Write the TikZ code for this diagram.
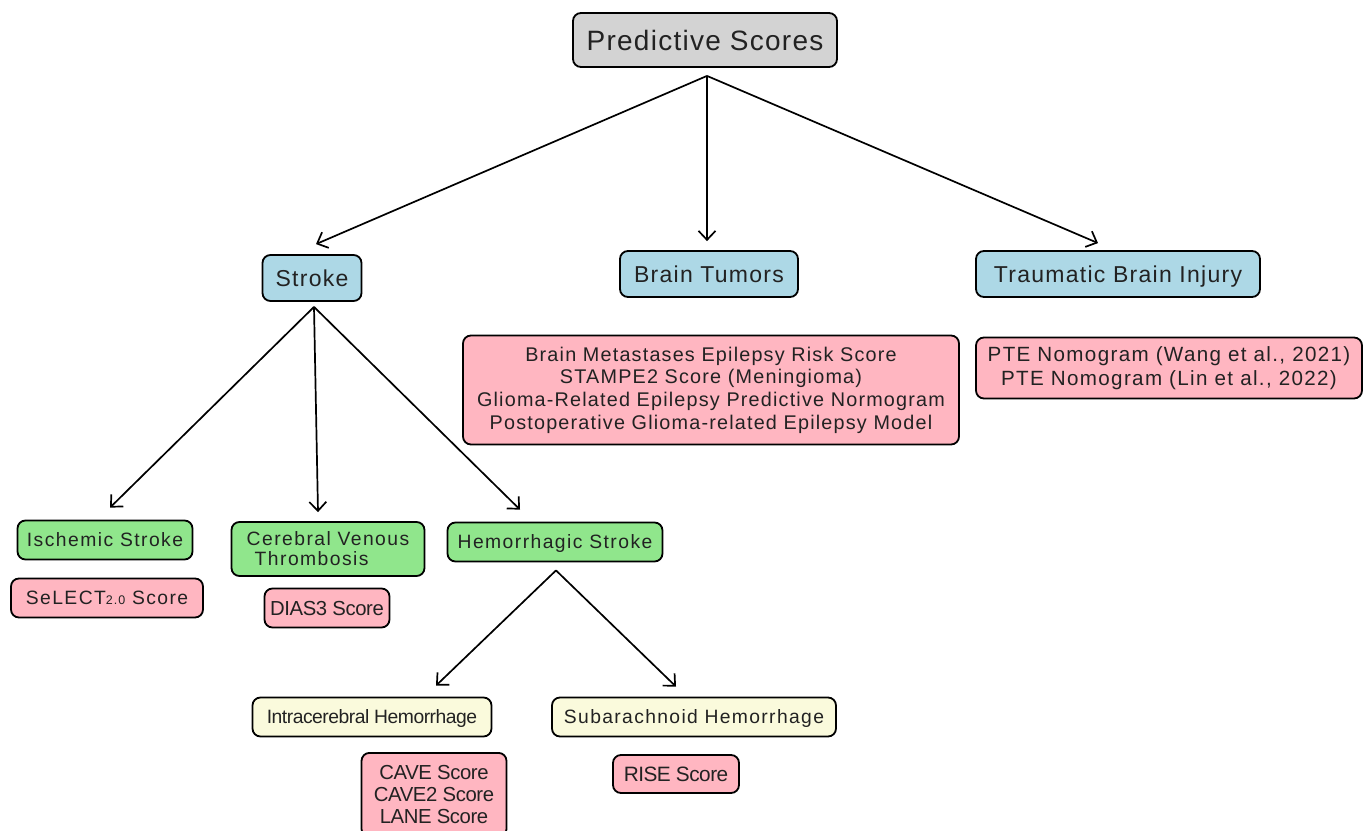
\documentclass[tikz,border=0pt]{standalone}
\usepackage{fontspec}
\setmainfont{Liberation Sans}
\usetikzlibrary{arrows.meta}
\definecolor{psgray}{HTML}{D3D3D3}
\definecolor{catblue}{HTML}{ADD8E6}
\definecolor{subgreen}{HTML}{90E68C}
\definecolor{scorepink}{HTML}{FFB6C1}
\definecolor{hemyellow}{HTML}{FAFADC}
\definecolor{txt}{HTML}{222222}
\begin{document}
\begin{tikzpicture}[x=1pt,y=-1pt,
  box/.style={draw=black, line width=1.8pt, rounded corners=8pt, text=txt, inner sep=0pt, align=center},
  capc/.style={text height=#1, text depth=0pt},
  arr/.style={-{Straight Barb[length=9pt,width=17pt,line width=1.7pt]}, line width=1.7pt},
  ftop/.style={font=\fontsize{28}{30}\selectfont\addfontfeature{LetterSpace=4.5}, capc=20pt},
  fcat/.style={font=\fontsize{23}{26}\selectfont\addfontfeature{LetterSpace=5.5}, capc=16.5pt},
  fsub/.style={font=\fontsize{19.3}{20}\selectfont\addfontfeature{LetterSpace=7.5}},
  fplain/.style={font=\fontsize{20.3}{22}\selectfont\addfontfeature{LetterSpace=-2}},
]
\useasboundingbox (0,0) rectangle (1370,830);
\fill[white] (0,0) rectangle (1370,830);

% level 1
\node[box, fill=psgray, minimum width=264pt, minimum height=54pt, ftop] (ps) at (705,40) {Predictive Scores};

% level 2
\node[box, fill=catblue, minimum width=99pt, minimum height=46pt, fcat] (stroke) at (312,278) {Stroke};
\node[box, fill=catblue, minimum width=178pt, minimum height=46pt, fcat] (bt) at (709,274) {Brain Tumors};
\node[box, fill=catblue, minimum width=284pt, minimum height=46pt, fcat] (tbi) at (1118,274) {Traumatic Brain Injury};

% score boxes of level 2
\node[box, fill=scorepink, minimum width=496pt, minimum height=109pt, font=\fontsize{19.8}{22.7}\selectfont\addfontfeature{LetterSpace=6}] (btscores) at (711,390)
  {Brain Metastases Epilepsy Risk Score\\STAMPE2 Score (Meningioma)\\Glioma-Related Epilepsy Predictive Normogram\\Postoperative Glioma-related Epilepsy Model};
\node[box, fill=scorepink, minimum width=386pt, minimum height=61pt, font=\fontsize{20.6}{24}\selectfont\addfontfeature{LetterSpace=6.5}] (tbiscores) at (1169,368)
  {PTE Nomogram (Wang et al., 2021)\\PTE Nomogram (Lin et al., 2022)};

% level 3
\node[box, fill=subgreen, minimum width=175pt, minimum height=39pt, fsub, capc=13.8pt] (isch) at (105,540) {Ischemic Stroke};
\node[box, fill=subgreen, minimum width=193pt, minimum height=54pt, fsub, align=left] (cvt) at (328,549) {Cerebral Venous\\\hspace*{8pt}Thrombosis};
\node[box, fill=subgreen, minimum width=215pt, minimum height=39pt, fsub, capc=13.8pt] (hem) at (555,542) {Hemorrhagic Stroke};

\node[box, fill=scorepink, minimum width=192pt, minimum height=39pt, fsub, capc=13.8pt] (select) at (107,598)
  {SeLECT{\fontsize{12.5}{12}\selectfont 2.0} Score};
\node[box, fill=scorepink, minimum width=125pt, minimum height=39pt, fplain, capc=14.5pt] (dias) at (327,608) {DIAS3 Score};

% level 4
\node[box, fill=hemyellow, minimum width=239pt, minimum height=39pt, font=\fontsize{19.3}{20}\selectfont\addfontfeature{LetterSpace=-2.5}, capc=13.8pt] (ich) at (372,717) {Intracerebral Hemorrhage};
\node[box, fill=hemyellow, minimum width=284pt, minimum height=39pt, font=\fontsize{19.3}{20}\selectfont\addfontfeature{LetterSpace=7}, capc=13.8pt] (sah) at (694,717) {Subarachnoid Hemorrhage};

\node[box, fill=scorepink, minimum width=145pt, minimum height=84pt, fplain, anchor=north] (ichscores) at (434,752)
  {CAVE Score\\CAVE2 Score\\LANE Score};
\node[box, fill=scorepink, minimum width=126pt, minimum height=38pt, font=\fontsize{20.8}{22}\selectfont\addfontfeature{LetterSpace=-2.5}, capc=15pt] (rise) at (676,774) {RISE Score};

% connectors
\draw[arr] ([xshift=2pt,yshift=-8pt]ps.south) -- ([xshift=4pt,yshift=10pt]stroke.north);
\draw[arr] ([xshift=2pt,yshift=-8pt]ps.south) -- ([xshift=-2pt,yshift=9pt]bt.north);
\draw[arr] ([xshift=2pt,yshift=-8pt]ps.south) -- ([xshift=-20pt,yshift=7pt]tbi.north);

\draw[arr] ([xshift=2pt,yshift=-5pt]stroke.south) -- ([xshift=5pt,yshift=12pt]isch.north);
\draw[arr] ([xshift=2pt,yshift=-5pt]stroke.south) -- ([xshift=-10pt,yshift=9pt]cvt.north);
\draw[arr] ([xshift=2pt,yshift=-5pt]stroke.south) -- ([xshift=-35pt,yshift=12pt]hem.north);

\draw[arr] ([xshift=1pt,yshift=-8pt]hem.south) -- ([xshift=64pt,yshift=11pt]ich.north);
\draw[arr] ([xshift=1pt,yshift=-8pt]hem.south) -- ([xshift=-18pt,yshift=10pt]sah.north);
\end{tikzpicture}
\end{document}
